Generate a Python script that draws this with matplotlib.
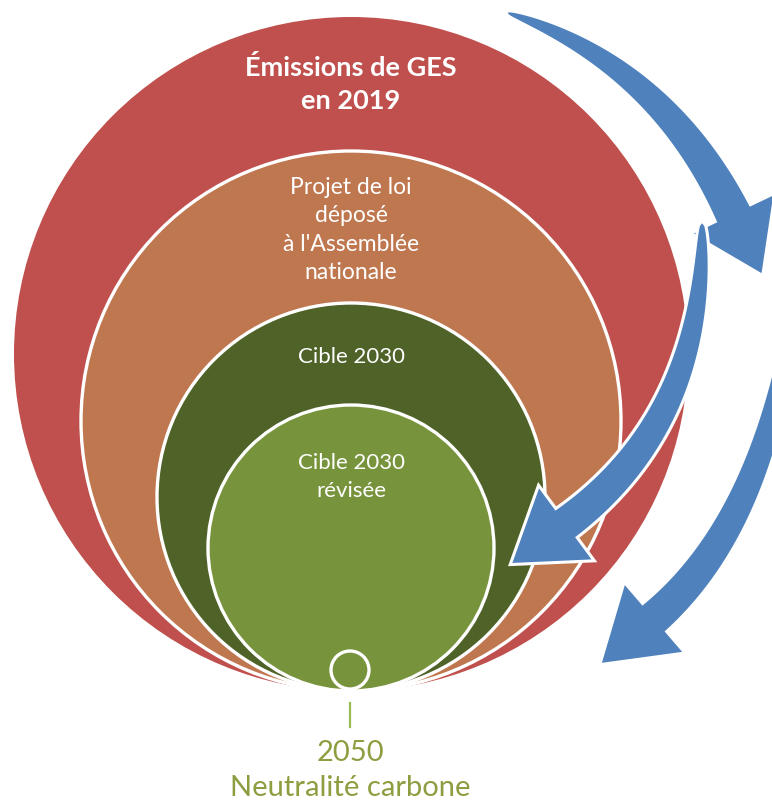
import numpy as np
import matplotlib
matplotlib.use("Agg")
import matplotlib.pyplot as plt
from matplotlib.patches import Circle, Polygon

plt.rcParams['font.family'] = ['Lato', 'DejaVu Sans']

# --- diagram data (pixel units, y grows downwards) ---
labels = ["Émissions de GES\nen 2019",
          "Projet de loi\ndéposé\nà l'Assemblée\nnationale",
          "Cible 2030",
          "Cible 2030\nrévisée"]
radii = [337, 270, 194, 143]
label_y = [84, 230, 357, 477]
label_size = [19.5, 16.5, 16, 16]
label_bold = [True, False, False, False]
fills = ['#C0504D', '#BF774F', '#4F6228', '#77933C']
edges = ['none', 'white', 'white', 'white']

target_year = "2050"
target_text = "Neutralité carbone"

W, H = 772, 801
cx, base_y = 351, 691
blue = '#4F81BD'


def curved_arrow(ax, p0, c, p2, w0, w1, head_w, head_l, edge=None, zorder=5, pw=0.6):
    p0, c, p2 = map(np.asarray, (p0, c, p2))
    t = np.linspace(0, 1, 120)[:, None]
    pts = (1 - t) ** 2 * p0 + 2 * (1 - t) * t * c + t ** 2 * p2
    d = 2 * (1 - t) * (c - p0) + 2 * t * (p2 - c)
    d = d / np.linalg.norm(d, axis=1, keepdims=True)
    n = np.column_stack([-d[:, 1], d[:, 0]])
    w = w0 + (w1 - w0) * t ** pw
    left = pts + n * w
    right = pts - n * w
    tip = p2 + d[-1] * head_l
    wing_l = p2 + n[-1] * head_w
    wing_r = p2 - n[-1] * head_w
    poly = np.vstack([left, wing_l, tip, wing_r, right[::-1]])
    ax.add_patch(Polygon(poly, closed=True, fc=blue,
                         ec=edge if edge else 'none', lw=2.2 if edge else 0,
                         joinstyle='miter', zorder=zorder))


fig = plt.figure(figsize=(W / 100, H / 100), dpi=100)
ax = fig.add_axes([0, 0, 1, 1])
ax.set_xlim(0, W)
ax.set_ylim(H, 0)
ax.set_aspect('equal')
ax.axis('off')

# nested circles, all touching at the bottom
for i, r in enumerate(radii):
    ax.add_patch(Circle((cx, base_y - r), r, fc=fills[i], ec=edges[i],
                        lw=2.4, zorder=1 + i))
    ax.text(cx, label_y[i], labels[i], color='white', ha='center', va='center',
            fontsize=label_size[i], fontweight='bold' if label_bold[i] else 'normal',
            linespacing=1.45, zorder=10)

# small circle for 2050 at the bottom
ax.add_patch(Circle((cx - 1, base_y - 21), 19, fc='#77933C', ec='white', lw=2.4, zorder=6))
ax.plot([cx - 1, cx - 1], [703, 727], color='#9BBB59', lw=1.6, zorder=6)
ax.text(cx - 1, 753, target_year, color='#8C9E3F', ha='center', va='center', fontsize=21)
ax.text(cx - 1, 788, target_text, color='#8C9E3F', ha='center', va='center', fontsize=21)

# blue arrows
curved_arrow(ax, (508, 13), (662, 65), (733.5, 214.5), 0.5, 18, 44, 65, zorder=7)
curved_arrow(ax, (790, 330), (760, 527), (653.5, 618.5), 6, 17, 44, 68, zorder=7)
curved_arrow(ax, (702, 222), (706, 420), (566.5, 523), 1, 18, 47, 70, edge='white',
             zorder=8, pw=0.4)

fig.savefig('out.png', dpi=100)
